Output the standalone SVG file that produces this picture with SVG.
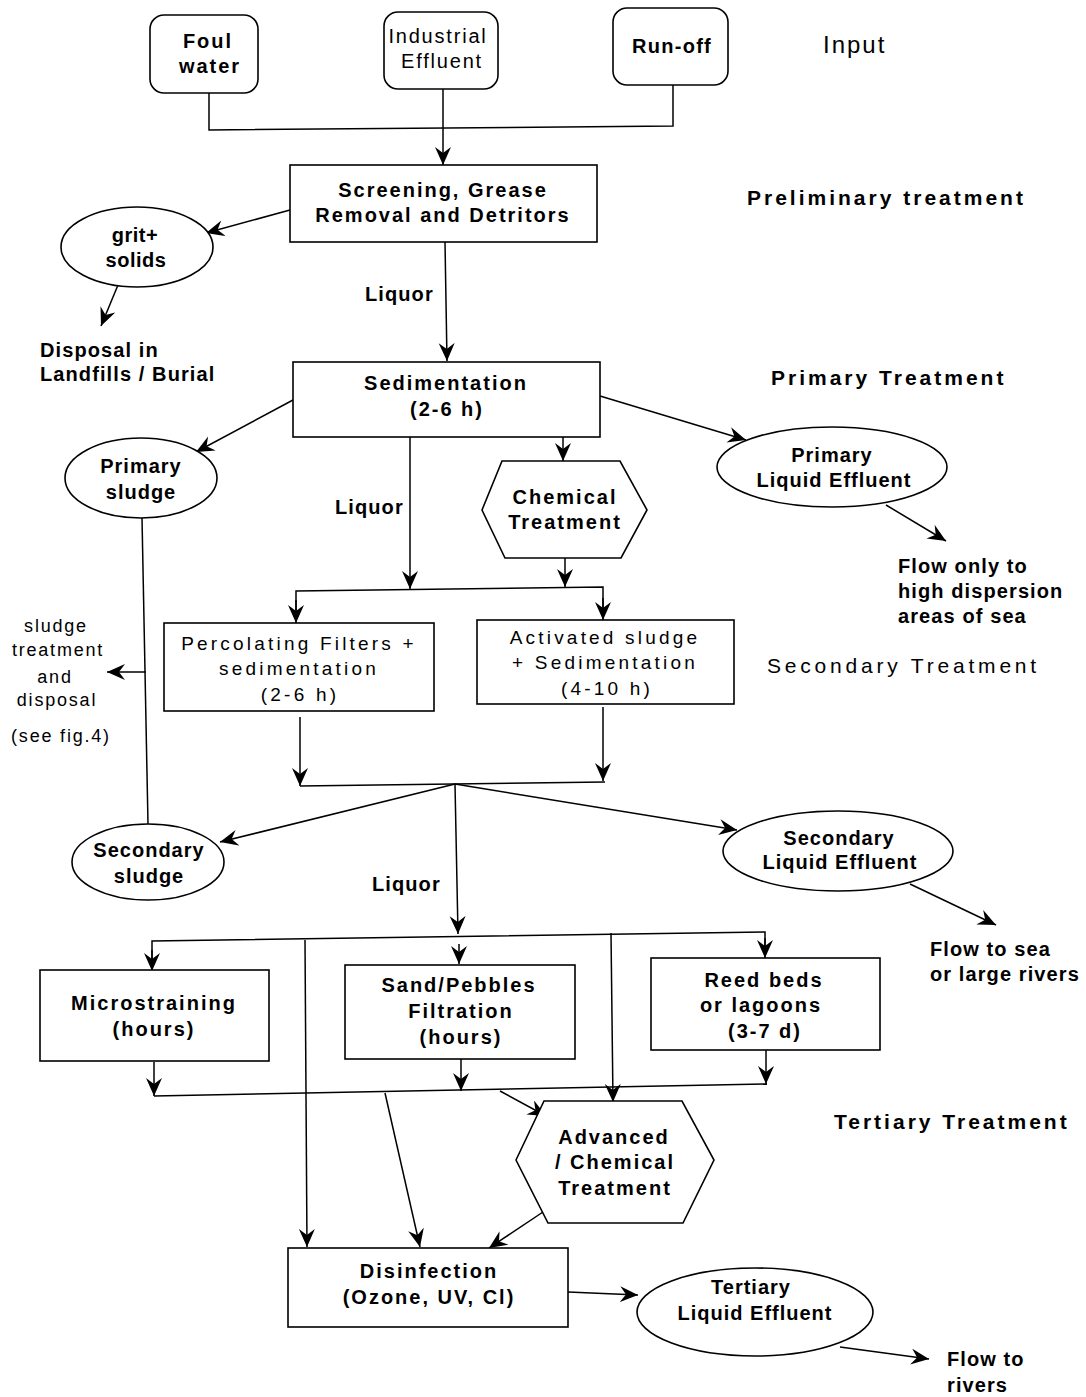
<svg xmlns="http://www.w3.org/2000/svg" width="1086" height="1397" viewBox="0 0 1086 1397">
<defs>
<marker id="ah" markerUnits="userSpaceOnUse" markerWidth="20" markerHeight="18" refX="18" refY="8" orient="auto">
<path d="M0,0 L18,8 L0,16 L6,8 z" fill="#000"/>
</marker>
<style>
.b{fill:#fff;stroke:#000;stroke-width:1.6}
.c{fill:none;stroke:#000;stroke-width:1.5}
.a{marker-end:url(#ah)}
text{font-family:"Liberation Sans",Arial,sans-serif;fill:#000}
.t{font-size:20px;font-weight:bold;letter-spacing:2px;text-anchor:middle}
.e{font-size:20px;font-weight:bold;letter-spacing:1px;text-anchor:middle}
.r{font-size:19px;letter-spacing:3.2px;text-anchor:middle}
.s{font-size:18px;letter-spacing:1.8px;text-anchor:middle}
.h{font-size:21px;font-weight:bold;letter-spacing:3px}
.n{font-size:20px;font-weight:bold;letter-spacing:1.1px}
</style>
</defs>
<rect width="1086" height="1397" fill="#fff"/>

<g id="connectors">
<polyline class="c" points="209,93 209,130 673,126 673,85"/>
<line class="c a" x1="443" y1="89" x2="443" y2="165"/>
<line class="c a" x1="290" y1="210" x2="206" y2="233"/>
<line class="c a" x1="118" y1="285" x2="101" y2="326"/>
<line class="c a" x1="445" y1="242" x2="447" y2="361"/>
<line class="c a" x1="293" y1="400" x2="196" y2="452"/>
<line class="c a" x1="600" y1="396" x2="746" y2="440"/>
<line class="c a" x1="886" y1="505" x2="946" y2="541"/>
<line class="c a" x1="563" y1="437" x2="563" y2="461"/>
<line class="c a" x1="410" y1="437" x2="410" y2="589"/>
<line class="c a" x1="565" y1="558" x2="565" y2="587"/>
<polyline class="c" points="296,612 296,591 603,587 603,612"/>
<line class="c a" x1="296" y1="600" x2="296" y2="623"/>
<line class="c a" x1="603" y1="598" x2="603" y2="620"/>
<line class="c" x1="142" y1="518" x2="148" y2="824"/>
<line class="c a" x1="146" y1="672" x2="107" y2="672"/>
<line class="c a" x1="300" y1="717" x2="300" y2="786"/>
<line class="c a" x1="603" y1="707" x2="603" y2="781"/>
<line class="c" x1="300" y1="786" x2="605" y2="782"/>
<line class="c a" x1="455" y1="784" x2="220" y2="842"/>
<line class="c a" x1="455" y1="784" x2="737" y2="830"/>
<line class="c a" x1="455" y1="784" x2="458" y2="934"/>
<line class="c a" x1="910" y1="884" x2="996" y2="925"/>
<polyline class="c" points="152,960 152,941 765,932 765,950"/>
<line class="c a" x1="152" y1="950" x2="152" y2="971"/>
<line class="c a" x1="459" y1="944" x2="459" y2="964"/>
<line class="c a" x1="765" y1="938" x2="765" y2="958"/>
<line class="c a" x1="305" y1="940" x2="307" y2="1247"/>
<line class="c a" x1="611" y1="933" x2="613" y2="1102"/>
<line class="c a" x1="154" y1="1062" x2="154" y2="1096"/>
<line class="c a" x1="461" y1="1059" x2="461" y2="1091"/>
<line class="c a" x1="766" y1="1046" x2="766" y2="1084"/>
<line class="c" x1="154" y1="1096" x2="767" y2="1084"/>
<line class="c a" x1="500" y1="1091" x2="546" y2="1116"/>
<line class="c a" x1="385" y1="1093" x2="420" y2="1247"/>
<line class="c a" x1="546" y1="1210" x2="489" y2="1248"/>
<line class="c a" x1="568" y1="1292" x2="638" y2="1295"/>
<line class="c a" x1="840" y1="1347" x2="929" y2="1359"/>
</g>

<g id="foul-water">
<rect class="b" x="150" y="15" width="108" height="78" rx="14"/>
<text class="t" x="208" y="48">Foul</text>
<text class="t" x="210" y="73">water</text>
</g>
<g id="industrial-effluent">
<rect class="b" x="384" y="12" width="114" height="77" rx="14"/>
<text x="438" y="43" style="font-size:20px;letter-spacing:1.8px;text-anchor:middle">Industrial</text>
<text x="442" y="68" style="font-size:20px;letter-spacing:1.8px;text-anchor:middle">Effluent</text>
</g>
<g id="run-off">
<rect class="b" x="613" y="8" width="115" height="77" rx="14"/>
<text x="672" y="53" style="font-size:20px;font-weight:bold;letter-spacing:1.3px;text-anchor:middle">Run-off</text>
</g>
<text x="823" y="53" style="font-size:24px;letter-spacing:2px">Input</text>

<g id="screening">
<rect class="b" x="290" y="165" width="307" height="77"/>
<text class="t" x="443" y="197">Screening, Grease</text>
<text class="t" x="443" y="222">Removal and Detritors</text>
</g>
<text class="h" x="747" y="205">Preliminary treatment</text>

<g id="grit-solids">
<ellipse class="b" cx="137" cy="247" rx="76" ry="40"/>
<text class="e" x="135" y="242" style="letter-spacing:0.5px">grit+</text>
<text class="e" x="136" y="267" style="letter-spacing:0.5px">solids</text>
</g>
<g id="disposal-landfills">
<text class="n" x="40" y="357">Disposal in</text>
<text class="n" x="40" y="381">Landfills / Burial</text>
</g>

<text class="n" x="365" y="301">Liquor</text>

<g id="sedimentation">
<rect class="b" x="293" y="362" width="307" height="75"/>
<text class="t" x="446" y="390">Sedimentation</text>
<text class="t" x="447" y="416">(2-6 h)</text>
</g>
<text class="h" x="771" y="385">Primary Treatment</text>

<g id="primary-sludge">
<ellipse class="b" cx="141" cy="478" rx="76" ry="40"/>
<text class="e" x="141" y="473">Primary</text>
<text class="e" x="141" y="499">sludge</text>
</g>

<g id="primary-liquid-effluent">
<ellipse class="b" cx="832" cy="467" rx="115" ry="40"/>
<text class="e" x="832" y="462">Primary</text>
<text class="e" x="834" y="487">Liquid Effluent</text>
</g>
<g id="flow-high-dispersion">
<text class="n" x="898" y="573">Flow only to</text>
<text class="n" x="898" y="598">high dispersion</text>
<text class="n" x="898" y="623">areas of sea</text>
</g>

<g id="chemical-treatment">
<polygon class="b" points="482,510 502,461 620,461 647,510 621,558 505,558"/>
<text class="t" x="565" y="504">Chemical</text>
<text class="t" x="565" y="529">Treatment</text>
</g>
<text class="n" x="335" y="514">Liquor</text>

<g id="sludge-treatment">
<text class="s" x="56" y="632">sludge</text>
<text class="s" x="58" y="656">treatment</text>
<text class="s" x="55" y="683">and</text>
<text class="s" x="57" y="706">disposal</text>
<text class="s" x="61" y="742">(see fig.4)</text>
</g>

<g id="percolating-filters">
<rect class="b" x="164" y="623" width="270" height="88"/>
<text class="r" x="299" y="650">Percolating Filters +</text>
<text class="r" x="299" y="675">sedimentation</text>
<text class="r" x="300" y="701">(2-6 h)</text>
</g>
<g id="activated-sludge">
<rect class="b" x="477" y="620" width="257" height="84"/>
<text class="r" x="605" y="644">Activated sludge</text>
<text class="r" x="605" y="669">+ Sedimentation</text>
<text class="r" x="607" y="695">(4-10 h)</text>
</g>
<text x="767" y="673" style="font-size:21px;letter-spacing:3.8px">Secondary Treatment</text>

<g id="secondary-sludge">
<ellipse class="b" cx="148" cy="862" rx="76" ry="38"/>
<text class="e" x="149" y="857">Secondary</text>
<text class="e" x="149" y="883">sludge</text>
</g>
<g id="secondary-liquid-effluent">
<ellipse class="b" cx="838" cy="851" rx="115" ry="40"/>
<text class="e" x="839" y="845">Secondary</text>
<text class="e" x="840" y="869">Liquid Effluent</text>
</g>
<g id="flow-sea-large-rivers">
<text class="n" x="930" y="956">Flow to sea</text>
<text class="n" x="930" y="981">or large rivers</text>
</g>
<text class="n" x="372" y="891">Liquor</text>

<g id="microstraining">
<rect class="b" x="40" y="970" width="229" height="91"/>
<text class="t" x="154" y="1010">Microstraining</text>
<text class="t" x="154" y="1036">(hours)</text>
</g>
<g id="sand-pebbles">
<rect class="b" x="345" y="965" width="230" height="94"/>
<text class="t" x="459" y="992">Sand/Pebbles</text>
<text class="t" x="461" y="1018">Filtration</text>
<text class="t" x="461" y="1044">(hours)</text>
</g>
<g id="reed-beds">
<rect class="b" x="651" y="958" width="229" height="92"/>
<text class="t" x="764" y="987">Reed beds</text>
<text class="t" x="761" y="1012">or lagoons</text>
<text class="t" x="765" y="1038">(3-7 d)</text>
</g>
<text class="h" x="834" y="1129">Tertiary Treatment</text>

<g id="advanced-chemical">
<polygon class="b" points="516,1160 544,1101 682,1101 714,1160 683,1223 548,1223"/>
<text class="t" x="614" y="1144">Advanced</text>
<text class="t" x="615" y="1169">/ Chemical</text>
<text class="t" x="615" y="1195">Treatment</text>
</g>

<g id="disinfection">
<rect class="b" x="288" y="1248" width="280" height="79"/>
<text class="t" x="429" y="1278">Disinfection</text>
<text class="t" x="429" y="1304">(Ozone, UV, Cl)</text>
</g>
<g id="tertiary-liquid-effluent">
<ellipse class="b" cx="755" cy="1312" rx="118" ry="44"/>
<text class="e" x="751" y="1294">Tertiary</text>
<text class="e" x="755" y="1320">Liquid Effluent</text>
</g>
<g id="flow-rivers">
<text class="n" x="947" y="1366">Flow to</text>
<text class="n" x="947" y="1392">rivers</text>
</g>
</svg>
